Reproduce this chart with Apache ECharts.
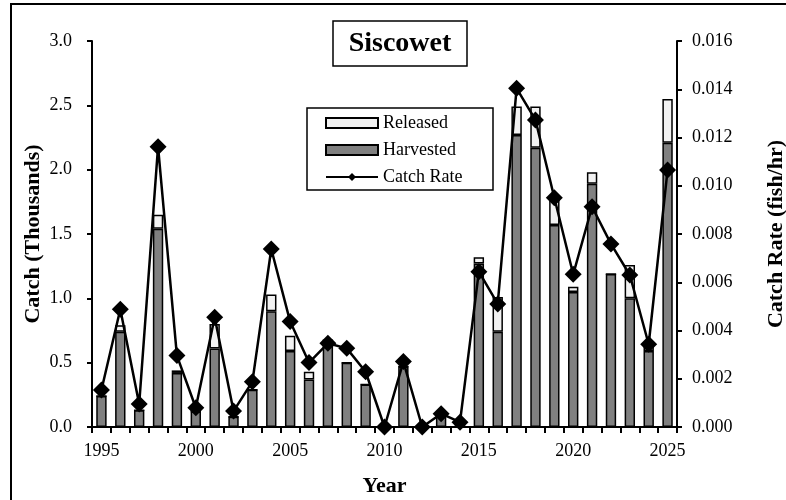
<!DOCTYPE html>
<html>
<head>
<meta charset="utf-8">
<script src="https://cdn.jsdelivr.net/npm/echarts@6/dist/echarts.min.js"></script>
<style>
html,body{margin:0;padding:0;background:#fff;}
#chart{width:786px;height:500px;}
</style>
</head>
<body>
<div id="chart"></div>
<script>
const years = [];
for (let y = 1995; y <= 2025; y++) years.push(String(y));

const harvested = [0.24, 0.74, 0.13, 1.54, 0.42, 0.12, 0.61, 0.08, 0.29, 0.90,
                   0.59, 0.37, 0.65, 0.50, 0.33, 0.00, 0.47, 0.00, 0.11, 0.02,
                   1.27, 0.74, 2.27, 2.17, 1.57, 1.05, 1.89, 1.19, 1.00, 0.59, 2.21];
const released  = [0.00, 0.05, 0.00, 0.11, 0.02, 0.00, 0.19, 0.00, 0.00, 0.13,
                   0.12, 0.06, 0.03, 0.00, 0.00, 0.00, 0.00, 0.00, 0.00, 0.00,
                   0.05, 0.27, 0.22, 0.32, 0.22, 0.04, 0.09, 0.00, 0.26, 0.06, 0.34];
const catchRate = [0.00153, 0.00488, 0.00095, 0.01162, 0.00296, 0.00080, 0.00455, 0.00066, 0.00188, 0.00738,
                   0.00437, 0.00267, 0.00347, 0.00326, 0.00229, 0.00000, 0.00271, 0.00000, 0.00055, 0.00020,
                   0.00644, 0.00510, 0.01404, 0.01273, 0.00950, 0.00633, 0.00913, 0.00759, 0.00630, 0.00343, 0.01065];

const font = '"Liberation Serif", "Times New Roman", serif';
const chart = echarts.init(document.getElementById('chart'), null, {renderer: 'canvas'});

chart.setOption({
  backgroundColor: '#fff',
  animation: false,
  textStyle: {fontFamily: font, color: '#000'},
  grid: {left: 92, right: 109, top: 41, bottom: 73, containLabel: false, outerBoundsMode: 'none'},
  graphic: [
    {type: 'rect', shape: {x: 11, y: 4, width: 800, height: 520},
     style: {fill: 'none', stroke: '#000', lineWidth: 2}, z: 100},
    {type: 'rect', shape: {x: 333, y: 21, width: 134, height: 45},
     style: {fill: '#fff', stroke: '#000', lineWidth: 1.5}, z: 100},
    {type: 'text', x: 400, y: 44, z: 101,
     style: {text: 'Siscowet', font: 'bold 28px ' + font, fill: '#000', align: 'center', verticalAlign: 'middle'}},
    {type: 'rect', shape: {x: 307, y: 108, width: 186, height: 82},
     style: {fill: '#fff', stroke: '#000', lineWidth: 1.5}, z: 0}
  ],
  legend: {
    data: [{name: 'Released', icon: 'rect'}, {name: 'Harvested', icon: 'rect'}, {name: 'Catch Rate'}],
    orient: 'vertical',
    left: 320, top: 109,
    itemWidth: 52, itemHeight: 10,
    itemGap: 9,
    textStyle: {fontFamily: font, fontSize: 18, color: '#000', padding: [0, 0, 0, 0]},
    z: 10
  },
  xAxis: {
    type: 'category',
    data: years,
    boundaryGap: true,
    name: 'Year',
    nameLocation: 'middle',
    nameGap: 48,
    nameMoveOverlap: false,
    nameTextStyle: {fontFamily: font, fontSize: 22, fontWeight: 'bold', color: '#000'},
    axisLine: {lineStyle: {color: '#000', width: 2}},
    axisTick: {show: true, interval: 0, length: 6, lineStyle: {color: '#000', width: 2}},
    axisLabel: {interval: 4, margin: 15, fontFamily: font, fontSize: 18, color: '#000'},
    splitLine: {show: false}
  },
  yAxis: [
    {
      type: 'value', min: 0, max: 3, interval: 0.5,
      name: 'Catch (Thousands)',
      nameLocation: 'middle', nameGap: 48, nameRotate: 90, nameMoveOverlap: false,
      nameTextStyle: {fontFamily: font, fontSize: 22, fontWeight: 'bold', color: '#000'},
      axisLine: {show: true, lineStyle: {color: '#000', width: 2}},
      axisTick: {show: true, length: 5, lineStyle: {color: '#000', width: 2}},
      axisLabel: {margin: 20, fontFamily: font, fontSize: 18, color: '#000',
                  formatter: v => v.toFixed(1)},
      splitLine: {show: false}
    },
    {
      type: 'value', min: 0, max: 0.016, interval: 0.002, position: 'right',
      name: 'Catch Rate (fish/hr)',
      nameLocation: 'middle', nameGap: 88, nameRotate: 90, nameMoveOverlap: false,
      nameTextStyle: {fontFamily: font, fontSize: 22, fontWeight: 'bold', color: '#000'},
      axisLine: {show: true, lineStyle: {color: '#000', width: 2}},
      axisTick: {show: true, length: 5, lineStyle: {color: '#000', width: 2}},
      axisLabel: {margin: 15, fontFamily: font, fontSize: 18, color: '#000',
                  formatter: v => v.toFixed(3)},
      splitLine: {show: false}
    }
  ],
  series: [
    {
      name: 'Harvested', type: 'bar', stack: 'c', data: harvested,
      barWidth: '55%',
      itemStyle: {color: '#808080', borderColor: '#000', borderWidth: 1.5},
      z: 2
    },
    {
      name: 'Released', type: 'bar', stack: 'c', data: released,
      barWidth: '55%',
      itemStyle: {color: '#f2f2f2', borderColor: '#000', borderWidth: 1.5},
      z: 2
    },
    {
      name: 'Catch Rate', type: 'line', yAxisIndex: 1, data: catchRate,
      symbol: 'diamond', symbolSize: 17, showSymbol: true, showAllSymbol: true,
      lineStyle: {color: '#000', width: 2.5},
      itemStyle: {color: '#000'},
      z: 5
    }
  ]
});
</script>
</body>
</html>
